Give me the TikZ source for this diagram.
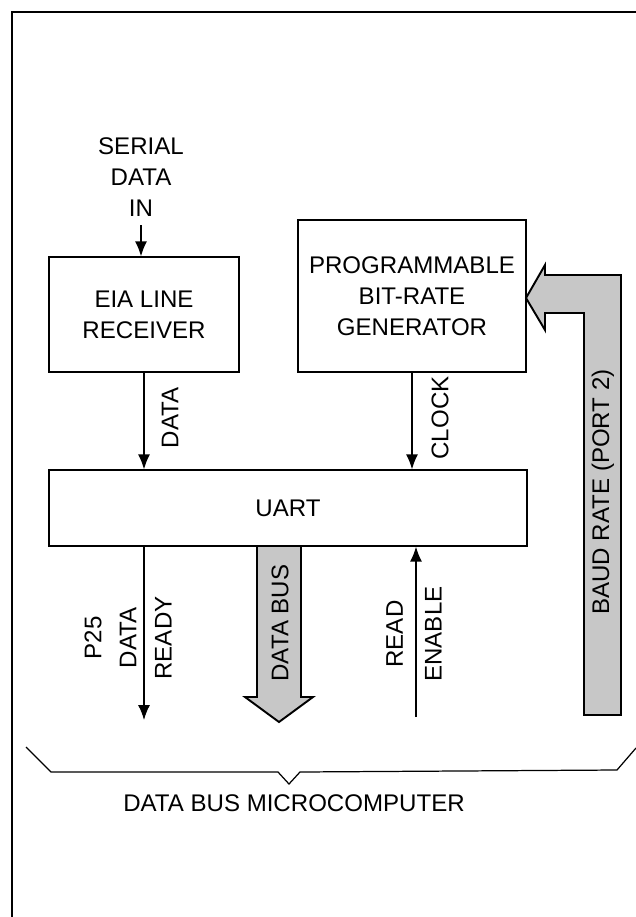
\documentclass[tikz,border=0pt]{standalone}
\usepackage{fontspec}
\setmainfont{Liberation Sans}
\usetikzlibrary{arrows.meta, math}

\begin{document}
\begin{tikzpicture}[x=0.02cm, y=-0.02cm,
  every node/.style={font=\fontsize{13.7}{17.6}\selectfont, inner sep=0pt},
  block/.style={draw, line width=0.75pt, align=center},
  sig/.style={-{Latex[length=3mm,width=2.4mm]}, line width=0.75pt},
  fat/.style={draw, line width=1.1pt, fill=black!22, line join=miter},
  vlabel/.style={rotate=90, align=center}]
\tikzmath{
\xl=144;
\xr=412;
}
\useasboundingbox (0,0) rectangle (636,917);

% frame
\draw[line width=0.6pt] (636,12) -- (12,12) -- (12,917);

% fat arrows (under the boxes)
\draw[fat] (257,547) -- (257,697) -- (245,697) -- (279,722) -- (313,697) -- (301,697) -- (301,547);
\draw[fat] (584,715) -- (584,313) -- (545,313) -- (545,330) -- (526,298) -- (545,265) -- (545,275) -- (621,275) -- (621,715) -- cycle;

\node[align=center] (serial) at (141,177) {SERIAL\\DATA\\IN};
\node[block, minimum width=3.8cm, minimum height=2.3cm] (eia) at (\xl,314.5) {EIA LINE\\RECEIVER};
\node[block, minimum width=4.56cm, minimum height=3.04cm] (prog) at (\xr,296) {PROGRAMMABLE\\BIT-RATE\\GENERATOR};
\node[block, minimum width=9.56cm, minimum height=1.52cm] (uart) at (288,508) {UART};

\draw[sig] ([yshift=-5pt]serial.south) -- (serial.south |- eia.north);
\draw[sig] (eia.south) -- (eia.south |- uart.north);
\node[vlabel] (lbldata) at (170,418) {DATA};
\draw[sig] (prog.south) -- (prog.south |- uart.north);
\node[vlabel] (lblclock) at (440,418) {CLOCK};

\coordinate (readyend) at (\xl,720);
\draw[sig] (uart.south -| readyend) -- (readyend);
\node[vlabel, font=\fontsize{13.7}{20}\selectfont] (lblready) at (128,638) {P25\\DATA\\READY};

\coordinate (enablestart) at (416,717);
\draw[sig] (enablestart) -- (enablestart |- uart.south);
\node[vlabel, font=\fontsize{13.7}{22}\selectfont] (lblenable) at (414,634) {READ\\ENABLE};

\node[vlabel] (lblbus) at (280,623) {DATA BUS};
\node[vlabel] (lblbaud) at (603,492) {BAUD RATE (PORT 2)};

% brace
\draw[line width=0.7pt] (26,747) -- (51,772) -- (278,772) -- (289,784) -- (300,772) -- (617,770) -- (636,748);
\node (micro) at (294,803) {DATA BUS MICROCOMPUTER};
\end{tikzpicture}
\end{document}
